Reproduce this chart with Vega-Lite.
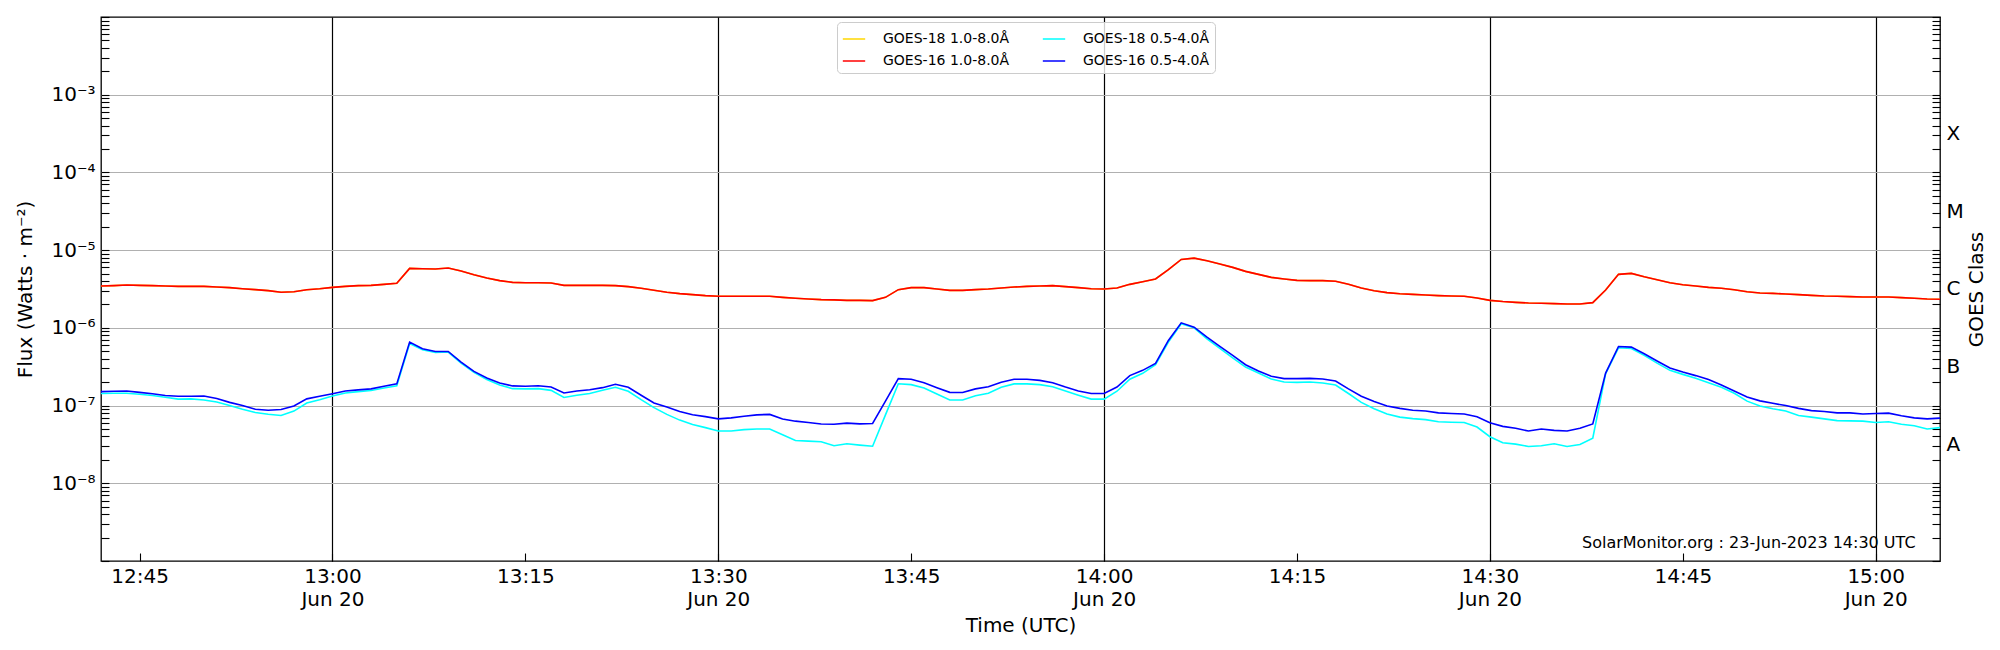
{
  "$schema": "https://vega.github.io/schema/vega-lite/v6.json",
  "width": 1839,
  "height": 544,
  "autosize": {"type": "none"},
  "padding": {"left": 101, "top": 17, "right": 60, "bottom": 89},
  "config": {
    "font": "DejaVu Sans",
    "view": {"stroke": "#000000", "strokeWidth": 1.3},
    "axis": {
      "domain": false,
      "labelFontSize": 20,
      "labelColor": "#000000",
      "titleFontSize": 20,
      "titleFontWeight": "normal",
      "titleColor": "#000000",
      "tickColor": "#000000",
      "tickWidth": 1.1,
      "labelOverlap": false,
      "labelFlush": false,
      "labelBound": false
    }
  },
  "data": {
    "values": [
      {"t":"2023-06-20T12:42:00Z","s":"GOES-18 1.0-8.0Å","f":3.45e-6},
      {"t":"2023-06-20T12:43:00Z","s":"GOES-18 1.0-8.0Å","f":3.49e-6},
      {"t":"2023-06-20T12:44:00Z","s":"GOES-18 1.0-8.0Å","f":3.56e-6},
      {"t":"2023-06-20T12:45:00Z","s":"GOES-18 1.0-8.0Å","f":3.52e-6},
      {"t":"2023-06-20T12:46:00Z","s":"GOES-18 1.0-8.0Å","f":3.49e-6},
      {"t":"2023-06-20T12:47:00Z","s":"GOES-18 1.0-8.0Å","f":3.45e-6},
      {"t":"2023-06-20T12:48:00Z","s":"GOES-18 1.0-8.0Å","f":3.42e-6},
      {"t":"2023-06-20T12:49:00Z","s":"GOES-18 1.0-8.0Å","f":3.42e-6},
      {"t":"2023-06-20T12:50:00Z","s":"GOES-18 1.0-8.0Å","f":3.42e-6},
      {"t":"2023-06-20T12:51:00Z","s":"GOES-18 1.0-8.0Å","f":3.36e-6},
      {"t":"2023-06-20T12:52:00Z","s":"GOES-18 1.0-8.0Å","f":3.29e-6},
      {"t":"2023-06-20T12:53:00Z","s":"GOES-18 1.0-8.0Å","f":3.19e-6},
      {"t":"2023-06-20T12:54:00Z","s":"GOES-18 1.0-8.0Å","f":3.10e-6},
      {"t":"2023-06-20T12:55:00Z","s":"GOES-18 1.0-8.0Å","f":3.01e-6},
      {"t":"2023-06-20T12:56:00Z","s":"GOES-18 1.0-8.0Å","f":2.87e-6},
      {"t":"2023-06-20T12:57:00Z","s":"GOES-18 1.0-8.0Å","f":2.92e-6},
      {"t":"2023-06-20T12:58:00Z","s":"GOES-18 1.0-8.0Å","f":3.10e-6},
      {"t":"2023-06-20T12:59:00Z","s":"GOES-18 1.0-8.0Å","f":3.19e-6},
      {"t":"2023-06-20T13:00:00Z","s":"GOES-18 1.0-8.0Å","f":3.32e-6},
      {"t":"2023-06-20T13:01:00Z","s":"GOES-18 1.0-8.0Å","f":3.42e-6},
      {"t":"2023-06-20T13:02:00Z","s":"GOES-18 1.0-8.0Å","f":3.49e-6},
      {"t":"2023-06-20T13:03:00Z","s":"GOES-18 1.0-8.0Å","f":3.52e-6},
      {"t":"2023-06-20T13:04:00Z","s":"GOES-18 1.0-8.0Å","f":3.63e-6},
      {"t":"2023-06-20T13:05:00Z","s":"GOES-18 1.0-8.0Å","f":3.74e-6},
      {"t":"2023-06-20T13:06:00Z","s":"GOES-18 1.0-8.0Å","f":5.82e-6},
      {"t":"2023-06-20T13:07:00Z","s":"GOES-18 1.0-8.0Å","f":5.77e-6},
      {"t":"2023-06-20T13:08:00Z","s":"GOES-18 1.0-8.0Å","f":5.71e-6},
      {"t":"2023-06-20T13:09:00Z","s":"GOES-18 1.0-8.0Å","f":5.88e-6},
      {"t":"2023-06-20T13:10:00Z","s":"GOES-18 1.0-8.0Å","f":5.38e-6},
      {"t":"2023-06-20T13:11:00Z","s":"GOES-18 1.0-8.0Å","f":4.83e-6},
      {"t":"2023-06-20T13:12:00Z","s":"GOES-18 1.0-8.0Å","f":4.38e-6},
      {"t":"2023-06-20T13:13:00Z","s":"GOES-18 1.0-8.0Å","f":4.05e-6},
      {"t":"2023-06-20T13:14:00Z","s":"GOES-18 1.0-8.0Å","f":3.85e-6},
      {"t":"2023-06-20T13:15:00Z","s":"GOES-18 1.0-8.0Å","f":3.81e-6},
      {"t":"2023-06-20T13:16:00Z","s":"GOES-18 1.0-8.0Å","f":3.81e-6},
      {"t":"2023-06-20T13:17:00Z","s":"GOES-18 1.0-8.0Å","f":3.77e-6},
      {"t":"2023-06-20T13:18:00Z","s":"GOES-18 1.0-8.0Å","f":3.52e-6},
      {"t":"2023-06-20T13:19:00Z","s":"GOES-18 1.0-8.0Å","f":3.52e-6},
      {"t":"2023-06-20T13:20:00Z","s":"GOES-18 1.0-8.0Å","f":3.52e-6},
      {"t":"2023-06-20T13:21:00Z","s":"GOES-18 1.0-8.0Å","f":3.52e-6},
      {"t":"2023-06-20T13:22:00Z","s":"GOES-18 1.0-8.0Å","f":3.49e-6},
      {"t":"2023-06-20T13:23:00Z","s":"GOES-18 1.0-8.0Å","f":3.39e-6},
      {"t":"2023-06-20T13:24:00Z","s":"GOES-18 1.0-8.0Å","f":3.23e-6},
      {"t":"2023-06-20T13:25:00Z","s":"GOES-18 1.0-8.0Å","f":3.04e-6},
      {"t":"2023-06-20T13:26:00Z","s":"GOES-18 1.0-8.0Å","f":2.87e-6},
      {"t":"2023-06-20T13:27:00Z","s":"GOES-18 1.0-8.0Å","f":2.76e-6},
      {"t":"2023-06-20T13:28:00Z","s":"GOES-18 1.0-8.0Å","f":2.68e-6},
      {"t":"2023-06-20T13:29:00Z","s":"GOES-18 1.0-8.0Å","f":2.60e-6},
      {"t":"2023-06-20T13:30:00Z","s":"GOES-18 1.0-8.0Å","f":2.55e-6},
      {"t":"2023-06-20T13:31:00Z","s":"GOES-18 1.0-8.0Å","f":2.55e-6},
      {"t":"2023-06-20T13:32:00Z","s":"GOES-18 1.0-8.0Å","f":2.55e-6},
      {"t":"2023-06-20T13:33:00Z","s":"GOES-18 1.0-8.0Å","f":2.55e-6},
      {"t":"2023-06-20T13:34:00Z","s":"GOES-18 1.0-8.0Å","f":2.55e-6},
      {"t":"2023-06-20T13:35:00Z","s":"GOES-18 1.0-8.0Å","f":2.47e-6},
      {"t":"2023-06-20T13:36:00Z","s":"GOES-18 1.0-8.0Å","f":2.40e-6},
      {"t":"2023-06-20T13:37:00Z","s":"GOES-18 1.0-8.0Å","f":2.35e-6},
      {"t":"2023-06-20T13:38:00Z","s":"GOES-18 1.0-8.0Å","f":2.31e-6},
      {"t":"2023-06-20T13:39:00Z","s":"GOES-18 1.0-8.0Å","f":2.29e-6},
      {"t":"2023-06-20T13:40:00Z","s":"GOES-18 1.0-8.0Å","f":2.26e-6},
      {"t":"2023-06-20T13:41:00Z","s":"GOES-18 1.0-8.0Å","f":2.26e-6},
      {"t":"2023-06-20T13:42:00Z","s":"GOES-18 1.0-8.0Å","f":2.24e-6},
      {"t":"2023-06-20T13:43:00Z","s":"GOES-18 1.0-8.0Å","f":2.47e-6},
      {"t":"2023-06-20T13:44:00Z","s":"GOES-18 1.0-8.0Å","f":3.10e-6},
      {"t":"2023-06-20T13:45:00Z","s":"GOES-18 1.0-8.0Å","f":3.29e-6},
      {"t":"2023-06-20T13:46:00Z","s":"GOES-18 1.0-8.0Å","f":3.29e-6},
      {"t":"2023-06-20T13:47:00Z","s":"GOES-18 1.0-8.0Å","f":3.16e-6},
      {"t":"2023-06-20T13:48:00Z","s":"GOES-18 1.0-8.0Å","f":3.04e-6},
      {"t":"2023-06-20T13:49:00Z","s":"GOES-18 1.0-8.0Å","f":3.04e-6},
      {"t":"2023-06-20T13:50:00Z","s":"GOES-18 1.0-8.0Å","f":3.10e-6},
      {"t":"2023-06-20T13:51:00Z","s":"GOES-18 1.0-8.0Å","f":3.16e-6},
      {"t":"2023-06-20T13:52:00Z","s":"GOES-18 1.0-8.0Å","f":3.26e-6},
      {"t":"2023-06-20T13:53:00Z","s":"GOES-18 1.0-8.0Å","f":3.35e-6},
      {"t":"2023-06-20T13:54:00Z","s":"GOES-18 1.0-8.0Å","f":3.42e-6},
      {"t":"2023-06-20T13:55:00Z","s":"GOES-18 1.0-8.0Å","f":3.45e-6},
      {"t":"2023-06-20T13:56:00Z","s":"GOES-18 1.0-8.0Å","f":3.49e-6},
      {"t":"2023-06-20T13:57:00Z","s":"GOES-18 1.0-8.0Å","f":3.39e-6},
      {"t":"2023-06-20T13:58:00Z","s":"GOES-18 1.0-8.0Å","f":3.29e-6},
      {"t":"2023-06-20T13:59:00Z","s":"GOES-18 1.0-8.0Å","f":3.19e-6},
      {"t":"2023-06-20T14:00:00Z","s":"GOES-18 1.0-8.0Å","f":3.16e-6},
      {"t":"2023-06-20T14:01:00Z","s":"GOES-18 1.0-8.0Å","f":3.26e-6},
      {"t":"2023-06-20T14:02:00Z","s":"GOES-18 1.0-8.0Å","f":3.63e-6},
      {"t":"2023-06-20T14:03:00Z","s":"GOES-18 1.0-8.0Å","f":3.93e-6},
      {"t":"2023-06-20T14:04:00Z","s":"GOES-18 1.0-8.0Å","f":4.25e-6},
      {"t":"2023-06-20T14:05:00Z","s":"GOES-18 1.0-8.0Å","f":5.60e-6},
      {"t":"2023-06-20T14:06:00Z","s":"GOES-18 1.0-8.0Å","f":7.59e-6},
      {"t":"2023-06-20T14:07:00Z","s":"GOES-18 1.0-8.0Å","f":7.89e-6},
      {"t":"2023-06-20T14:08:00Z","s":"GOES-18 1.0-8.0Å","f":7.30e-6},
      {"t":"2023-06-20T14:09:00Z","s":"GOES-18 1.0-8.0Å","f":6.62e-6},
      {"t":"2023-06-20T14:10:00Z","s":"GOES-18 1.0-8.0Å","f":6.00e-6},
      {"t":"2023-06-20T14:11:00Z","s":"GOES-18 1.0-8.0Å","f":5.33e-6},
      {"t":"2023-06-20T14:12:00Z","s":"GOES-18 1.0-8.0Å","f":4.88e-6},
      {"t":"2023-06-20T14:13:00Z","s":"GOES-18 1.0-8.0Å","f":4.46e-6},
      {"t":"2023-06-20T14:14:00Z","s":"GOES-18 1.0-8.0Å","f":4.25e-6},
      {"t":"2023-06-20T14:15:00Z","s":"GOES-18 1.0-8.0Å","f":4.08e-6},
      {"t":"2023-06-20T14:16:00Z","s":"GOES-18 1.0-8.0Å","f":4.05e-6},
      {"t":"2023-06-20T14:17:00Z","s":"GOES-18 1.0-8.0Å","f":4.05e-6},
      {"t":"2023-06-20T14:18:00Z","s":"GOES-18 1.0-8.0Å","f":3.97e-6},
      {"t":"2023-06-20T14:19:00Z","s":"GOES-18 1.0-8.0Å","f":3.63e-6},
      {"t":"2023-06-20T14:20:00Z","s":"GOES-18 1.0-8.0Å","f":3.26e-6},
      {"t":"2023-06-20T14:21:00Z","s":"GOES-18 1.0-8.0Å","f":3.01e-6},
      {"t":"2023-06-20T14:22:00Z","s":"GOES-18 1.0-8.0Å","f":2.84e-6},
      {"t":"2023-06-20T14:23:00Z","s":"GOES-18 1.0-8.0Å","f":2.75e-6},
      {"t":"2023-06-20T14:24:00Z","s":"GOES-18 1.0-8.0Å","f":2.70e-6},
      {"t":"2023-06-20T14:25:00Z","s":"GOES-18 1.0-8.0Å","f":2.65e-6},
      {"t":"2023-06-20T14:26:00Z","s":"GOES-18 1.0-8.0Å","f":2.60e-6},
      {"t":"2023-06-20T14:27:00Z","s":"GOES-18 1.0-8.0Å","f":2.57e-6},
      {"t":"2023-06-20T14:28:00Z","s":"GOES-18 1.0-8.0Å","f":2.55e-6},
      {"t":"2023-06-20T14:29:00Z","s":"GOES-18 1.0-8.0Å","f":2.42e-6},
      {"t":"2023-06-20T14:30:00Z","s":"GOES-18 1.0-8.0Å","f":2.26e-6},
      {"t":"2023-06-20T14:31:00Z","s":"GOES-18 1.0-8.0Å","f":2.18e-6},
      {"t":"2023-06-20T14:32:00Z","s":"GOES-18 1.0-8.0Å","f":2.13e-6},
      {"t":"2023-06-20T14:33:00Z","s":"GOES-18 1.0-8.0Å","f":2.09e-6},
      {"t":"2023-06-20T14:34:00Z","s":"GOES-18 1.0-8.0Å","f":2.07e-6},
      {"t":"2023-06-20T14:35:00Z","s":"GOES-18 1.0-8.0Å","f":2.05e-6},
      {"t":"2023-06-20T14:36:00Z","s":"GOES-18 1.0-8.0Å","f":2.03e-6},
      {"t":"2023-06-20T14:37:00Z","s":"GOES-18 1.0-8.0Å","f":2.03e-6},
      {"t":"2023-06-20T14:38:00Z","s":"GOES-18 1.0-8.0Å","f":2.11e-6},
      {"t":"2023-06-20T14:39:00Z","s":"GOES-18 1.0-8.0Å","f":3.07e-6},
      {"t":"2023-06-20T14:40:00Z","s":"GOES-18 1.0-8.0Å","f":4.88e-6},
      {"t":"2023-06-20T14:41:00Z","s":"GOES-18 1.0-8.0Å","f":5.02e-6},
      {"t":"2023-06-20T14:42:00Z","s":"GOES-18 1.0-8.0Å","f":4.55e-6},
      {"t":"2023-06-20T14:43:00Z","s":"GOES-18 1.0-8.0Å","f":4.17e-6},
      {"t":"2023-06-20T14:44:00Z","s":"GOES-18 1.0-8.0Å","f":3.81e-6},
      {"t":"2023-06-20T14:45:00Z","s":"GOES-18 1.0-8.0Å","f":3.59e-6},
      {"t":"2023-06-20T14:46:00Z","s":"GOES-18 1.0-8.0Å","f":3.45e-6},
      {"t":"2023-06-20T14:47:00Z","s":"GOES-18 1.0-8.0Å","f":3.32e-6},
      {"t":"2023-06-20T14:48:00Z","s":"GOES-18 1.0-8.0Å","f":3.23e-6},
      {"t":"2023-06-20T14:49:00Z","s":"GOES-18 1.0-8.0Å","f":3.10e-6},
      {"t":"2023-06-20T14:50:00Z","s":"GOES-18 1.0-8.0Å","f":2.92e-6},
      {"t":"2023-06-20T14:51:00Z","s":"GOES-18 1.0-8.0Å","f":2.81e-6},
      {"t":"2023-06-20T14:52:00Z","s":"GOES-18 1.0-8.0Å","f":2.78e-6},
      {"t":"2023-06-20T14:53:00Z","s":"GOES-18 1.0-8.0Å","f":2.73e-6},
      {"t":"2023-06-20T14:54:00Z","s":"GOES-18 1.0-8.0Å","f":2.68e-6},
      {"t":"2023-06-20T14:55:00Z","s":"GOES-18 1.0-8.0Å","f":2.62e-6},
      {"t":"2023-06-20T14:56:00Z","s":"GOES-18 1.0-8.0Å","f":2.57e-6},
      {"t":"2023-06-20T14:57:00Z","s":"GOES-18 1.0-8.0Å","f":2.55e-6},
      {"t":"2023-06-20T14:58:00Z","s":"GOES-18 1.0-8.0Å","f":2.52e-6},
      {"t":"2023-06-20T14:59:00Z","s":"GOES-18 1.0-8.0Å","f":2.50e-6},
      {"t":"2023-06-20T15:00:00Z","s":"GOES-18 1.0-8.0Å","f":2.50e-6},
      {"t":"2023-06-20T15:01:00Z","s":"GOES-18 1.0-8.0Å","f":2.50e-6},
      {"t":"2023-06-20T15:02:00Z","s":"GOES-18 1.0-8.0Å","f":2.45e-6},
      {"t":"2023-06-20T15:03:00Z","s":"GOES-18 1.0-8.0Å","f":2.40e-6},
      {"t":"2023-06-20T15:04:00Z","s":"GOES-18 1.0-8.0Å","f":2.35e-6},
      {"t":"2023-06-20T15:05:00Z","s":"GOES-18 1.0-8.0Å","f":2.33e-6},

      {"t":"2023-06-20T12:42:00Z","s":"GOES-16 1.0-8.0Å","f":3.45e-6},
      {"t":"2023-06-20T12:43:00Z","s":"GOES-16 1.0-8.0Å","f":3.49e-6},
      {"t":"2023-06-20T12:44:00Z","s":"GOES-16 1.0-8.0Å","f":3.56e-6},
      {"t":"2023-06-20T12:45:00Z","s":"GOES-16 1.0-8.0Å","f":3.52e-6},
      {"t":"2023-06-20T12:46:00Z","s":"GOES-16 1.0-8.0Å","f":3.49e-6},
      {"t":"2023-06-20T12:47:00Z","s":"GOES-16 1.0-8.0Å","f":3.45e-6},
      {"t":"2023-06-20T12:48:00Z","s":"GOES-16 1.0-8.0Å","f":3.42e-6},
      {"t":"2023-06-20T12:49:00Z","s":"GOES-16 1.0-8.0Å","f":3.42e-6},
      {"t":"2023-06-20T12:50:00Z","s":"GOES-16 1.0-8.0Å","f":3.42e-6},
      {"t":"2023-06-20T12:51:00Z","s":"GOES-16 1.0-8.0Å","f":3.36e-6},
      {"t":"2023-06-20T12:52:00Z","s":"GOES-16 1.0-8.0Å","f":3.29e-6},
      {"t":"2023-06-20T12:53:00Z","s":"GOES-16 1.0-8.0Å","f":3.19e-6},
      {"t":"2023-06-20T12:54:00Z","s":"GOES-16 1.0-8.0Å","f":3.10e-6},
      {"t":"2023-06-20T12:55:00Z","s":"GOES-16 1.0-8.0Å","f":3.01e-6},
      {"t":"2023-06-20T12:56:00Z","s":"GOES-16 1.0-8.0Å","f":2.87e-6},
      {"t":"2023-06-20T12:57:00Z","s":"GOES-16 1.0-8.0Å","f":2.92e-6},
      {"t":"2023-06-20T12:58:00Z","s":"GOES-16 1.0-8.0Å","f":3.10e-6},
      {"t":"2023-06-20T12:59:00Z","s":"GOES-16 1.0-8.0Å","f":3.19e-6},
      {"t":"2023-06-20T13:00:00Z","s":"GOES-16 1.0-8.0Å","f":3.32e-6},
      {"t":"2023-06-20T13:01:00Z","s":"GOES-16 1.0-8.0Å","f":3.42e-6},
      {"t":"2023-06-20T13:02:00Z","s":"GOES-16 1.0-8.0Å","f":3.49e-6},
      {"t":"2023-06-20T13:03:00Z","s":"GOES-16 1.0-8.0Å","f":3.52e-6},
      {"t":"2023-06-20T13:04:00Z","s":"GOES-16 1.0-8.0Å","f":3.63e-6},
      {"t":"2023-06-20T13:05:00Z","s":"GOES-16 1.0-8.0Å","f":3.74e-6},
      {"t":"2023-06-20T13:06:00Z","s":"GOES-16 1.0-8.0Å","f":5.82e-6},
      {"t":"2023-06-20T13:07:00Z","s":"GOES-16 1.0-8.0Å","f":5.77e-6},
      {"t":"2023-06-20T13:08:00Z","s":"GOES-16 1.0-8.0Å","f":5.71e-6},
      {"t":"2023-06-20T13:09:00Z","s":"GOES-16 1.0-8.0Å","f":5.88e-6},
      {"t":"2023-06-20T13:10:00Z","s":"GOES-16 1.0-8.0Å","f":5.38e-6},
      {"t":"2023-06-20T13:11:00Z","s":"GOES-16 1.0-8.0Å","f":4.83e-6},
      {"t":"2023-06-20T13:12:00Z","s":"GOES-16 1.0-8.0Å","f":4.38e-6},
      {"t":"2023-06-20T13:13:00Z","s":"GOES-16 1.0-8.0Å","f":4.05e-6},
      {"t":"2023-06-20T13:14:00Z","s":"GOES-16 1.0-8.0Å","f":3.85e-6},
      {"t":"2023-06-20T13:15:00Z","s":"GOES-16 1.0-8.0Å","f":3.81e-6},
      {"t":"2023-06-20T13:16:00Z","s":"GOES-16 1.0-8.0Å","f":3.81e-6},
      {"t":"2023-06-20T13:17:00Z","s":"GOES-16 1.0-8.0Å","f":3.77e-6},
      {"t":"2023-06-20T13:18:00Z","s":"GOES-16 1.0-8.0Å","f":3.52e-6},
      {"t":"2023-06-20T13:19:00Z","s":"GOES-16 1.0-8.0Å","f":3.52e-6},
      {"t":"2023-06-20T13:20:00Z","s":"GOES-16 1.0-8.0Å","f":3.52e-6},
      {"t":"2023-06-20T13:21:00Z","s":"GOES-16 1.0-8.0Å","f":3.52e-6},
      {"t":"2023-06-20T13:22:00Z","s":"GOES-16 1.0-8.0Å","f":3.49e-6},
      {"t":"2023-06-20T13:23:00Z","s":"GOES-16 1.0-8.0Å","f":3.39e-6},
      {"t":"2023-06-20T13:24:00Z","s":"GOES-16 1.0-8.0Å","f":3.23e-6},
      {"t":"2023-06-20T13:25:00Z","s":"GOES-16 1.0-8.0Å","f":3.04e-6},
      {"t":"2023-06-20T13:26:00Z","s":"GOES-16 1.0-8.0Å","f":2.87e-6},
      {"t":"2023-06-20T13:27:00Z","s":"GOES-16 1.0-8.0Å","f":2.76e-6},
      {"t":"2023-06-20T13:28:00Z","s":"GOES-16 1.0-8.0Å","f":2.68e-6},
      {"t":"2023-06-20T13:29:00Z","s":"GOES-16 1.0-8.0Å","f":2.60e-6},
      {"t":"2023-06-20T13:30:00Z","s":"GOES-16 1.0-8.0Å","f":2.55e-6},
      {"t":"2023-06-20T13:31:00Z","s":"GOES-16 1.0-8.0Å","f":2.55e-6},
      {"t":"2023-06-20T13:32:00Z","s":"GOES-16 1.0-8.0Å","f":2.55e-6},
      {"t":"2023-06-20T13:33:00Z","s":"GOES-16 1.0-8.0Å","f":2.55e-6},
      {"t":"2023-06-20T13:34:00Z","s":"GOES-16 1.0-8.0Å","f":2.55e-6},
      {"t":"2023-06-20T13:35:00Z","s":"GOES-16 1.0-8.0Å","f":2.47e-6},
      {"t":"2023-06-20T13:36:00Z","s":"GOES-16 1.0-8.0Å","f":2.40e-6},
      {"t":"2023-06-20T13:37:00Z","s":"GOES-16 1.0-8.0Å","f":2.35e-6},
      {"t":"2023-06-20T13:38:00Z","s":"GOES-16 1.0-8.0Å","f":2.31e-6},
      {"t":"2023-06-20T13:39:00Z","s":"GOES-16 1.0-8.0Å","f":2.29e-6},
      {"t":"2023-06-20T13:40:00Z","s":"GOES-16 1.0-8.0Å","f":2.26e-6},
      {"t":"2023-06-20T13:41:00Z","s":"GOES-16 1.0-8.0Å","f":2.26e-6},
      {"t":"2023-06-20T13:42:00Z","s":"GOES-16 1.0-8.0Å","f":2.24e-6},
      {"t":"2023-06-20T13:43:00Z","s":"GOES-16 1.0-8.0Å","f":2.47e-6},
      {"t":"2023-06-20T13:44:00Z","s":"GOES-16 1.0-8.0Å","f":3.10e-6},
      {"t":"2023-06-20T13:45:00Z","s":"GOES-16 1.0-8.0Å","f":3.29e-6},
      {"t":"2023-06-20T13:46:00Z","s":"GOES-16 1.0-8.0Å","f":3.29e-6},
      {"t":"2023-06-20T13:47:00Z","s":"GOES-16 1.0-8.0Å","f":3.16e-6},
      {"t":"2023-06-20T13:48:00Z","s":"GOES-16 1.0-8.0Å","f":3.04e-6},
      {"t":"2023-06-20T13:49:00Z","s":"GOES-16 1.0-8.0Å","f":3.04e-6},
      {"t":"2023-06-20T13:50:00Z","s":"GOES-16 1.0-8.0Å","f":3.10e-6},
      {"t":"2023-06-20T13:51:00Z","s":"GOES-16 1.0-8.0Å","f":3.16e-6},
      {"t":"2023-06-20T13:52:00Z","s":"GOES-16 1.0-8.0Å","f":3.26e-6},
      {"t":"2023-06-20T13:53:00Z","s":"GOES-16 1.0-8.0Å","f":3.35e-6},
      {"t":"2023-06-20T13:54:00Z","s":"GOES-16 1.0-8.0Å","f":3.42e-6},
      {"t":"2023-06-20T13:55:00Z","s":"GOES-16 1.0-8.0Å","f":3.45e-6},
      {"t":"2023-06-20T13:56:00Z","s":"GOES-16 1.0-8.0Å","f":3.49e-6},
      {"t":"2023-06-20T13:57:00Z","s":"GOES-16 1.0-8.0Å","f":3.39e-6},
      {"t":"2023-06-20T13:58:00Z","s":"GOES-16 1.0-8.0Å","f":3.29e-6},
      {"t":"2023-06-20T13:59:00Z","s":"GOES-16 1.0-8.0Å","f":3.19e-6},
      {"t":"2023-06-20T14:00:00Z","s":"GOES-16 1.0-8.0Å","f":3.16e-6},
      {"t":"2023-06-20T14:01:00Z","s":"GOES-16 1.0-8.0Å","f":3.26e-6},
      {"t":"2023-06-20T14:02:00Z","s":"GOES-16 1.0-8.0Å","f":3.63e-6},
      {"t":"2023-06-20T14:03:00Z","s":"GOES-16 1.0-8.0Å","f":3.93e-6},
      {"t":"2023-06-20T14:04:00Z","s":"GOES-16 1.0-8.0Å","f":4.25e-6},
      {"t":"2023-06-20T14:05:00Z","s":"GOES-16 1.0-8.0Å","f":5.60e-6},
      {"t":"2023-06-20T14:06:00Z","s":"GOES-16 1.0-8.0Å","f":7.59e-6},
      {"t":"2023-06-20T14:07:00Z","s":"GOES-16 1.0-8.0Å","f":7.89e-6},
      {"t":"2023-06-20T14:08:00Z","s":"GOES-16 1.0-8.0Å","f":7.30e-6},
      {"t":"2023-06-20T14:09:00Z","s":"GOES-16 1.0-8.0Å","f":6.62e-6},
      {"t":"2023-06-20T14:10:00Z","s":"GOES-16 1.0-8.0Å","f":6.00e-6},
      {"t":"2023-06-20T14:11:00Z","s":"GOES-16 1.0-8.0Å","f":5.33e-6},
      {"t":"2023-06-20T14:12:00Z","s":"GOES-16 1.0-8.0Å","f":4.88e-6},
      {"t":"2023-06-20T14:13:00Z","s":"GOES-16 1.0-8.0Å","f":4.46e-6},
      {"t":"2023-06-20T14:14:00Z","s":"GOES-16 1.0-8.0Å","f":4.25e-6},
      {"t":"2023-06-20T14:15:00Z","s":"GOES-16 1.0-8.0Å","f":4.08e-6},
      {"t":"2023-06-20T14:16:00Z","s":"GOES-16 1.0-8.0Å","f":4.05e-6},
      {"t":"2023-06-20T14:17:00Z","s":"GOES-16 1.0-8.0Å","f":4.05e-6},
      {"t":"2023-06-20T14:18:00Z","s":"GOES-16 1.0-8.0Å","f":3.97e-6},
      {"t":"2023-06-20T14:19:00Z","s":"GOES-16 1.0-8.0Å","f":3.63e-6},
      {"t":"2023-06-20T14:20:00Z","s":"GOES-16 1.0-8.0Å","f":3.26e-6},
      {"t":"2023-06-20T14:21:00Z","s":"GOES-16 1.0-8.0Å","f":3.01e-6},
      {"t":"2023-06-20T14:22:00Z","s":"GOES-16 1.0-8.0Å","f":2.84e-6},
      {"t":"2023-06-20T14:23:00Z","s":"GOES-16 1.0-8.0Å","f":2.75e-6},
      {"t":"2023-06-20T14:24:00Z","s":"GOES-16 1.0-8.0Å","f":2.70e-6},
      {"t":"2023-06-20T14:25:00Z","s":"GOES-16 1.0-8.0Å","f":2.65e-6},
      {"t":"2023-06-20T14:26:00Z","s":"GOES-16 1.0-8.0Å","f":2.60e-6},
      {"t":"2023-06-20T14:27:00Z","s":"GOES-16 1.0-8.0Å","f":2.57e-6},
      {"t":"2023-06-20T14:28:00Z","s":"GOES-16 1.0-8.0Å","f":2.55e-6},
      {"t":"2023-06-20T14:29:00Z","s":"GOES-16 1.0-8.0Å","f":2.42e-6},
      {"t":"2023-06-20T14:30:00Z","s":"GOES-16 1.0-8.0Å","f":2.26e-6},
      {"t":"2023-06-20T14:31:00Z","s":"GOES-16 1.0-8.0Å","f":2.18e-6},
      {"t":"2023-06-20T14:32:00Z","s":"GOES-16 1.0-8.0Å","f":2.13e-6},
      {"t":"2023-06-20T14:33:00Z","s":"GOES-16 1.0-8.0Å","f":2.09e-6},
      {"t":"2023-06-20T14:34:00Z","s":"GOES-16 1.0-8.0Å","f":2.07e-6},
      {"t":"2023-06-20T14:35:00Z","s":"GOES-16 1.0-8.0Å","f":2.05e-6},
      {"t":"2023-06-20T14:36:00Z","s":"GOES-16 1.0-8.0Å","f":2.03e-6},
      {"t":"2023-06-20T14:37:00Z","s":"GOES-16 1.0-8.0Å","f":2.03e-6},
      {"t":"2023-06-20T14:38:00Z","s":"GOES-16 1.0-8.0Å","f":2.11e-6},
      {"t":"2023-06-20T14:39:00Z","s":"GOES-16 1.0-8.0Å","f":3.07e-6},
      {"t":"2023-06-20T14:40:00Z","s":"GOES-16 1.0-8.0Å","f":4.88e-6},
      {"t":"2023-06-20T14:41:00Z","s":"GOES-16 1.0-8.0Å","f":5.02e-6},
      {"t":"2023-06-20T14:42:00Z","s":"GOES-16 1.0-8.0Å","f":4.55e-6},
      {"t":"2023-06-20T14:43:00Z","s":"GOES-16 1.0-8.0Å","f":4.17e-6},
      {"t":"2023-06-20T14:44:00Z","s":"GOES-16 1.0-8.0Å","f":3.81e-6},
      {"t":"2023-06-20T14:45:00Z","s":"GOES-16 1.0-8.0Å","f":3.59e-6},
      {"t":"2023-06-20T14:46:00Z","s":"GOES-16 1.0-8.0Å","f":3.45e-6},
      {"t":"2023-06-20T14:47:00Z","s":"GOES-16 1.0-8.0Å","f":3.32e-6},
      {"t":"2023-06-20T14:48:00Z","s":"GOES-16 1.0-8.0Å","f":3.23e-6},
      {"t":"2023-06-20T14:49:00Z","s":"GOES-16 1.0-8.0Å","f":3.10e-6},
      {"t":"2023-06-20T14:50:00Z","s":"GOES-16 1.0-8.0Å","f":2.92e-6},
      {"t":"2023-06-20T14:51:00Z","s":"GOES-16 1.0-8.0Å","f":2.81e-6},
      {"t":"2023-06-20T14:52:00Z","s":"GOES-16 1.0-8.0Å","f":2.78e-6},
      {"t":"2023-06-20T14:53:00Z","s":"GOES-16 1.0-8.0Å","f":2.73e-6},
      {"t":"2023-06-20T14:54:00Z","s":"GOES-16 1.0-8.0Å","f":2.68e-6},
      {"t":"2023-06-20T14:55:00Z","s":"GOES-16 1.0-8.0Å","f":2.62e-6},
      {"t":"2023-06-20T14:56:00Z","s":"GOES-16 1.0-8.0Å","f":2.57e-6},
      {"t":"2023-06-20T14:57:00Z","s":"GOES-16 1.0-8.0Å","f":2.55e-6},
      {"t":"2023-06-20T14:58:00Z","s":"GOES-16 1.0-8.0Å","f":2.52e-6},
      {"t":"2023-06-20T14:59:00Z","s":"GOES-16 1.0-8.0Å","f":2.50e-6},
      {"t":"2023-06-20T15:00:00Z","s":"GOES-16 1.0-8.0Å","f":2.50e-6},
      {"t":"2023-06-20T15:01:00Z","s":"GOES-16 1.0-8.0Å","f":2.50e-6},
      {"t":"2023-06-20T15:02:00Z","s":"GOES-16 1.0-8.0Å","f":2.45e-6},
      {"t":"2023-06-20T15:03:00Z","s":"GOES-16 1.0-8.0Å","f":2.40e-6},
      {"t":"2023-06-20T15:04:00Z","s":"GOES-16 1.0-8.0Å","f":2.35e-6},
      {"t":"2023-06-20T15:05:00Z","s":"GOES-16 1.0-8.0Å","f":2.33e-6},

      {"t":"2023-06-20T12:42:00Z","s":"GOES-18 0.5-4.0Å","f":1.43e-7},
      {"t":"2023-06-20T12:43:00Z","s":"GOES-18 0.5-4.0Å","f":1.44e-7},
      {"t":"2023-06-20T12:44:00Z","s":"GOES-18 0.5-4.0Å","f":1.44e-7},
      {"t":"2023-06-20T12:45:00Z","s":"GOES-18 0.5-4.0Å","f":1.40e-7},
      {"t":"2023-06-20T12:46:00Z","s":"GOES-18 0.5-4.0Å","f":1.35e-7},
      {"t":"2023-06-20T12:47:00Z","s":"GOES-18 0.5-4.0Å","f":1.28e-7},
      {"t":"2023-06-20T12:48:00Z","s":"GOES-18 0.5-4.0Å","f":1.21e-7},
      {"t":"2023-06-20T12:49:00Z","s":"GOES-18 0.5-4.0Å","f":1.22e-7},
      {"t":"2023-06-20T12:50:00Z","s":"GOES-18 0.5-4.0Å","f":1.18e-7},
      {"t":"2023-06-20T12:51:00Z","s":"GOES-18 0.5-4.0Å","f":1.11e-7},
      {"t":"2023-06-20T12:52:00Z","s":"GOES-18 0.5-4.0Å","f":1.00e-7},
      {"t":"2023-06-20T12:53:00Z","s":"GOES-18 0.5-4.0Å","f":8.97e-8},
      {"t":"2023-06-20T12:54:00Z","s":"GOES-18 0.5-4.0Å","f":8.13e-8},
      {"t":"2023-06-20T12:55:00Z","s":"GOES-18 0.5-4.0Å","f":7.74e-8},
      {"t":"2023-06-20T12:56:00Z","s":"GOES-18 0.5-4.0Å","f":7.45e-8},
      {"t":"2023-06-20T12:57:00Z","s":"GOES-18 0.5-4.0Å","f":8.5e-8},
      {"t":"2023-06-20T12:58:00Z","s":"GOES-18 0.5-4.0Å","f":1.08e-7},
      {"t":"2023-06-20T12:59:00Z","s":"GOES-18 0.5-4.0Å","f":1.19e-7},
      {"t":"2023-06-20T13:00:00Z","s":"GOES-18 0.5-4.0Å","f":1.33e-7},
      {"t":"2023-06-20T13:01:00Z","s":"GOES-18 0.5-4.0Å","f":1.45e-7},
      {"t":"2023-06-20T13:02:00Z","s":"GOES-18 0.5-4.0Å","f":1.51e-7},
      {"t":"2023-06-20T13:03:00Z","s":"GOES-18 0.5-4.0Å","f":1.56e-7},
      {"t":"2023-06-20T13:04:00Z","s":"GOES-18 0.5-4.0Å","f":1.68e-7},
      {"t":"2023-06-20T13:05:00Z","s":"GOES-18 0.5-4.0Å","f":1.80e-7},
      {"t":"2023-06-20T13:06:00Z","s":"GOES-18 0.5-4.0Å","f":6.30e-7},
      {"t":"2023-06-20T13:07:00Z","s":"GOES-18 0.5-4.0Å","f":5.22e-7},
      {"t":"2023-06-20T13:08:00Z","s":"GOES-18 0.5-4.0Å","f":4.83e-7},
      {"t":"2023-06-20T13:09:00Z","s":"GOES-18 0.5-4.0Å","f":4.88e-7},
      {"t":"2023-06-20T13:10:00Z","s":"GOES-18 0.5-4.0Å","f":3.52e-7},
      {"t":"2023-06-20T13:11:00Z","s":"GOES-18 0.5-4.0Å","f":2.67e-7},
      {"t":"2023-06-20T13:12:00Z","s":"GOES-18 0.5-4.0Å","f":2.16e-7},
      {"t":"2023-06-20T13:13:00Z","s":"GOES-18 0.5-4.0Å","f":1.84e-7},
      {"t":"2023-06-20T13:14:00Z","s":"GOES-18 0.5-4.0Å","f":1.65e-7},
      {"t":"2023-06-20T13:15:00Z","s":"GOES-18 0.5-4.0Å","f":1.64e-7},
      {"t":"2023-06-20T13:16:00Z","s":"GOES-18 0.5-4.0Å","f":1.65e-7},
      {"t":"2023-06-20T13:17:00Z","s":"GOES-18 0.5-4.0Å","f":1.57e-7},
      {"t":"2023-06-20T13:18:00Z","s":"GOES-18 0.5-4.0Å","f":1.27e-7},
      {"t":"2023-06-20T13:19:00Z","s":"GOES-18 0.5-4.0Å","f":1.36e-7},
      {"t":"2023-06-20T13:20:00Z","s":"GOES-18 0.5-4.0Å","f":1.43e-7},
      {"t":"2023-06-20T13:21:00Z","s":"GOES-18 0.5-4.0Å","f":1.57e-7},
      {"t":"2023-06-20T13:22:00Z","s":"GOES-18 0.5-4.0Å","f":1.72e-7},
      {"t":"2023-06-20T13:23:00Z","s":"GOES-18 0.5-4.0Å","f":1.53e-7},
      {"t":"2023-06-20T13:24:00Z","s":"GOES-18 0.5-4.0Å","f":1.19e-7},
      {"t":"2023-06-20T13:25:00Z","s":"GOES-18 0.5-4.0Å","f":9.4e-8},
      {"t":"2023-06-20T13:26:00Z","s":"GOES-18 0.5-4.0Å","f":7.7e-8},
      {"t":"2023-06-20T13:27:00Z","s":"GOES-18 0.5-4.0Å","f":6.5e-8},
      {"t":"2023-06-20T13:28:00Z","s":"GOES-18 0.5-4.0Å","f":5.7e-8},
      {"t":"2023-06-20T13:29:00Z","s":"GOES-18 0.5-4.0Å","f":5.2e-8},
      {"t":"2023-06-20T13:30:00Z","s":"GOES-18 0.5-4.0Å","f":4.7e-8},
      {"t":"2023-06-20T13:31:00Z","s":"GOES-18 0.5-4.0Å","f":4.7e-8},
      {"t":"2023-06-20T13:32:00Z","s":"GOES-18 0.5-4.0Å","f":4.9e-8},
      {"t":"2023-06-20T13:33:00Z","s":"GOES-18 0.5-4.0Å","f":5.0e-8},
      {"t":"2023-06-20T13:34:00Z","s":"GOES-18 0.5-4.0Å","f":5.0e-8},
      {"t":"2023-06-20T13:35:00Z","s":"GOES-18 0.5-4.0Å","f":4.2e-8},
      {"t":"2023-06-20T13:36:00Z","s":"GOES-18 0.5-4.0Å","f":3.56e-8},
      {"t":"2023-06-20T13:37:00Z","s":"GOES-18 0.5-4.0Å","f":3.49e-8},
      {"t":"2023-06-20T13:38:00Z","s":"GOES-18 0.5-4.0Å","f":3.42e-8},
      {"t":"2023-06-20T13:39:00Z","s":"GOES-18 0.5-4.0Å","f":3.04e-8},
      {"t":"2023-06-20T13:40:00Z","s":"GOES-18 0.5-4.0Å","f":3.23e-8},
      {"t":"2023-06-20T13:41:00Z","s":"GOES-18 0.5-4.0Å","f":3.10e-8},
      {"t":"2023-06-20T13:42:00Z","s":"GOES-18 0.5-4.0Å","f":3.0e-8},
      {"t":"2023-06-20T13:43:00Z","s":"GOES-18 0.5-4.0Å","f":7.6e-8},
      {"t":"2023-06-20T13:44:00Z","s":"GOES-18 0.5-4.0Å","f":1.91e-7},
      {"t":"2023-06-20T13:45:00Z","s":"GOES-18 0.5-4.0Å","f":1.86e-7},
      {"t":"2023-06-20T13:46:00Z","s":"GOES-18 0.5-4.0Å","f":1.68e-7},
      {"t":"2023-06-20T13:47:00Z","s":"GOES-18 0.5-4.0Å","f":1.41e-7},
      {"t":"2023-06-20T13:48:00Z","s":"GOES-18 0.5-4.0Å","f":1.18e-7},
      {"t":"2023-06-20T13:49:00Z","s":"GOES-18 0.5-4.0Å","f":1.18e-7},
      {"t":"2023-06-20T13:50:00Z","s":"GOES-18 0.5-4.0Å","f":1.34e-7},
      {"t":"2023-06-20T13:51:00Z","s":"GOES-18 0.5-4.0Å","f":1.44e-7},
      {"t":"2023-06-20T13:52:00Z","s":"GOES-18 0.5-4.0Å","f":1.72e-7},
      {"t":"2023-06-20T13:53:00Z","s":"GOES-18 0.5-4.0Å","f":1.90e-7},
      {"t":"2023-06-20T13:54:00Z","s":"GOES-18 0.5-4.0Å","f":1.90e-7},
      {"t":"2023-06-20T13:55:00Z","s":"GOES-18 0.5-4.0Å","f":1.86e-7},
      {"t":"2023-06-20T13:56:00Z","s":"GOES-18 0.5-4.0Å","f":1.75e-7},
      {"t":"2023-06-20T13:57:00Z","s":"GOES-18 0.5-4.0Å","f":1.54e-7},
      {"t":"2023-06-20T13:58:00Z","s":"GOES-18 0.5-4.0Å","f":1.36e-7},
      {"t":"2023-06-20T13:59:00Z","s":"GOES-18 0.5-4.0Å","f":1.21e-7},
      {"t":"2023-06-20T14:00:00Z","s":"GOES-18 0.5-4.0Å","f":1.21e-7},
      {"t":"2023-06-20T14:01:00Z","s":"GOES-18 0.5-4.0Å","f":1.53e-7},
      {"t":"2023-06-20T14:02:00Z","s":"GOES-18 0.5-4.0Å","f":2.18e-7},
      {"t":"2023-06-20T14:03:00Z","s":"GOES-18 0.5-4.0Å","f":2.60e-7},
      {"t":"2023-06-20T14:04:00Z","s":"GOES-18 0.5-4.0Å","f":3.35e-7},
      {"t":"2023-06-20T14:05:00Z","s":"GOES-18 0.5-4.0Å","f":6.55e-7},
      {"t":"2023-06-20T14:06:00Z","s":"GOES-18 0.5-4.0Å","f":1.13e-6},
      {"t":"2023-06-20T14:07:00Z","s":"GOES-18 0.5-4.0Å","f":1.0e-6},
      {"t":"2023-06-20T14:08:00Z","s":"GOES-18 0.5-4.0Å","f":7.23e-7},
      {"t":"2023-06-20T14:09:00Z","s":"GOES-18 0.5-4.0Å","f":5.43e-7},
      {"t":"2023-06-20T14:10:00Z","s":"GOES-18 0.5-4.0Å","f":4.12e-7},
      {"t":"2023-06-20T14:11:00Z","s":"GOES-18 0.5-4.0Å","f":3.13e-7},
      {"t":"2023-06-20T14:12:00Z","s":"GOES-18 0.5-4.0Å","f":2.62e-7},
      {"t":"2023-06-20T14:13:00Z","s":"GOES-18 0.5-4.0Å","f":2.20e-7},
      {"t":"2023-06-20T14:14:00Z","s":"GOES-18 0.5-4.0Å","f":2.01e-7},
      {"t":"2023-06-20T14:15:00Z","s":"GOES-18 0.5-4.0Å","f":1.99e-7},
      {"t":"2023-06-20T14:16:00Z","s":"GOES-18 0.5-4.0Å","f":2.01e-7},
      {"t":"2023-06-20T14:17:00Z","s":"GOES-18 0.5-4.0Å","f":1.95e-7},
      {"t":"2023-06-20T14:18:00Z","s":"GOES-18 0.5-4.0Å","f":1.84e-7},
      {"t":"2023-06-20T14:19:00Z","s":"GOES-18 0.5-4.0Å","f":1.43e-7},
      {"t":"2023-06-20T14:20:00Z","s":"GOES-18 0.5-4.0Å","f":1.10e-7},
      {"t":"2023-06-20T14:21:00Z","s":"GOES-18 0.5-4.0Å","f":9.1e-8},
      {"t":"2023-06-20T14:22:00Z","s":"GOES-18 0.5-4.0Å","f":7.8e-8},
      {"t":"2023-06-20T14:23:00Z","s":"GOES-18 0.5-4.0Å","f":7.1e-8},
      {"t":"2023-06-20T14:24:00Z","s":"GOES-18 0.5-4.0Å","f":6.8e-8},
      {"t":"2023-06-20T14:25:00Z","s":"GOES-18 0.5-4.0Å","f":6.6e-8},
      {"t":"2023-06-20T14:26:00Z","s":"GOES-18 0.5-4.0Å","f":6.2e-8},
      {"t":"2023-06-20T14:27:00Z","s":"GOES-18 0.5-4.0Å","f":6.1e-8},
      {"t":"2023-06-20T14:28:00Z","s":"GOES-18 0.5-4.0Å","f":6.05e-8},
      {"t":"2023-06-20T14:29:00Z","s":"GOES-18 0.5-4.0Å","f":5.3e-8},
      {"t":"2023-06-20T14:30:00Z","s":"GOES-18 0.5-4.0Å","f":3.97e-8},
      {"t":"2023-06-20T14:31:00Z","s":"GOES-18 0.5-4.0Å","f":3.32e-8},
      {"t":"2023-06-20T14:32:00Z","s":"GOES-18 0.5-4.0Å","f":3.19e-8},
      {"t":"2023-06-20T14:33:00Z","s":"GOES-18 0.5-4.0Å","f":2.98e-8},
      {"t":"2023-06-20T14:34:00Z","s":"GOES-18 0.5-4.0Å","f":3.04e-8},
      {"t":"2023-06-20T14:35:00Z","s":"GOES-18 0.5-4.0Å","f":3.23e-8},
      {"t":"2023-06-20T14:36:00Z","s":"GOES-18 0.5-4.0Å","f":2.98e-8},
      {"t":"2023-06-20T14:37:00Z","s":"GOES-18 0.5-4.0Å","f":3.16e-8},
      {"t":"2023-06-20T14:38:00Z","s":"GOES-18 0.5-4.0Å","f":3.81e-8},
      {"t":"2023-06-20T14:39:00Z","s":"GOES-18 0.5-4.0Å","f":2.57e-7},
      {"t":"2023-06-20T14:40:00Z","s":"GOES-18 0.5-4.0Å","f":5.54e-7},
      {"t":"2023-06-20T14:41:00Z","s":"GOES-18 0.5-4.0Å","f":5.43e-7},
      {"t":"2023-06-20T14:42:00Z","s":"GOES-18 0.5-4.0Å","f":4.42e-7},
      {"t":"2023-06-20T14:43:00Z","s":"GOES-18 0.5-4.0Å","f":3.52e-7},
      {"t":"2023-06-20T14:44:00Z","s":"GOES-18 0.5-4.0Å","f":2.84e-7},
      {"t":"2023-06-20T14:45:00Z","s":"GOES-18 0.5-4.0Å","f":2.52e-7},
      {"t":"2023-06-20T14:46:00Z","s":"GOES-18 0.5-4.0Å","f":2.24e-7},
      {"t":"2023-06-20T14:47:00Z","s":"GOES-18 0.5-4.0Å","f":1.97e-7},
      {"t":"2023-06-20T14:48:00Z","s":"GOES-18 0.5-4.0Å","f":1.72e-7},
      {"t":"2023-06-20T14:49:00Z","s":"GOES-18 0.5-4.0Å","f":1.44e-7},
      {"t":"2023-06-20T14:50:00Z","s":"GOES-18 0.5-4.0Å","f":1.14e-7},
      {"t":"2023-06-20T14:51:00Z","s":"GOES-18 0.5-4.0Å","f":9.9e-8},
      {"t":"2023-06-20T14:52:00Z","s":"GOES-18 0.5-4.0Å","f":9.1e-8},
      {"t":"2023-06-20T14:53:00Z","s":"GOES-18 0.5-4.0Å","f":8.5e-8},
      {"t":"2023-06-20T14:54:00Z","s":"GOES-18 0.5-4.0Å","f":7.45e-8},
      {"t":"2023-06-20T14:55:00Z","s":"GOES-18 0.5-4.0Å","f":7.1e-8},
      {"t":"2023-06-20T14:56:00Z","s":"GOES-18 0.5-4.0Å","f":6.75e-8},
      {"t":"2023-06-20T14:57:00Z","s":"GOES-18 0.5-4.0Å","f":6.4e-8},
      {"t":"2023-06-20T14:58:00Z","s":"GOES-18 0.5-4.0Å","f":6.36e-8},
      {"t":"2023-06-20T14:59:00Z","s":"GOES-18 0.5-4.0Å","f":6.3e-8},
      {"t":"2023-06-20T15:00:00Z","s":"GOES-18 0.5-4.0Å","f":6.05e-8},
      {"t":"2023-06-20T15:01:00Z","s":"GOES-18 0.5-4.0Å","f":6.2e-8},
      {"t":"2023-06-20T15:02:00Z","s":"GOES-18 0.5-4.0Å","f":5.76e-8},
      {"t":"2023-06-20T15:03:00Z","s":"GOES-18 0.5-4.0Å","f":5.5e-8},
      {"t":"2023-06-20T15:04:00Z","s":"GOES-18 0.5-4.0Å","f":5.0e-8},
      {"t":"2023-06-20T15:05:00Z","s":"GOES-18 0.5-4.0Å","f":5.2e-8},

      {"t":"2023-06-20T12:42:00Z","s":"GOES-16 0.5-4.0Å","f":1.51e-7},
      {"t":"2023-06-20T12:43:00Z","s":"GOES-16 0.5-4.0Å","f":1.53e-7},
      {"t":"2023-06-20T12:44:00Z","s":"GOES-16 0.5-4.0Å","f":1.54e-7},
      {"t":"2023-06-20T12:45:00Z","s":"GOES-16 0.5-4.0Å","f":1.48e-7},
      {"t":"2023-06-20T12:46:00Z","s":"GOES-16 0.5-4.0Å","f":1.42e-7},
      {"t":"2023-06-20T12:47:00Z","s":"GOES-16 0.5-4.0Å","f":1.35e-7},
      {"t":"2023-06-20T12:48:00Z","s":"GOES-16 0.5-4.0Å","f":1.32e-7},
      {"t":"2023-06-20T12:49:00Z","s":"GOES-16 0.5-4.0Å","f":1.32e-7},
      {"t":"2023-06-20T12:50:00Z","s":"GOES-16 0.5-4.0Å","f":1.33e-7},
      {"t":"2023-06-20T12:51:00Z","s":"GOES-16 0.5-4.0Å","f":1.23e-7},
      {"t":"2023-06-20T12:52:00Z","s":"GOES-16 0.5-4.0Å","f":1.10e-7},
      {"t":"2023-06-20T12:53:00Z","s":"GOES-16 0.5-4.0Å","f":1.00e-7},
      {"t":"2023-06-20T12:54:00Z","s":"GOES-16 0.5-4.0Å","f":8.97e-8},
      {"t":"2023-06-20T12:55:00Z","s":"GOES-16 0.5-4.0Å","f":8.71e-8},
      {"t":"2023-06-20T12:56:00Z","s":"GOES-16 0.5-4.0Å","f":8.89e-8},
      {"t":"2023-06-20T12:57:00Z","s":"GOES-16 0.5-4.0Å","f":9.9e-8},
      {"t":"2023-06-20T12:58:00Z","s":"GOES-16 0.5-4.0Å","f":1.22e-7},
      {"t":"2023-06-20T12:59:00Z","s":"GOES-16 0.5-4.0Å","f":1.32e-7},
      {"t":"2023-06-20T13:00:00Z","s":"GOES-16 0.5-4.0Å","f":1.42e-7},
      {"t":"2023-06-20T13:01:00Z","s":"GOES-16 0.5-4.0Å","f":1.54e-7},
      {"t":"2023-06-20T13:02:00Z","s":"GOES-16 0.5-4.0Å","f":1.59e-7},
      {"t":"2023-06-20T13:03:00Z","s":"GOES-16 0.5-4.0Å","f":1.64e-7},
      {"t":"2023-06-20T13:04:00Z","s":"GOES-16 0.5-4.0Å","f":1.77e-7},
      {"t":"2023-06-20T13:05:00Z","s":"GOES-16 0.5-4.0Å","f":1.90e-7},
      {"t":"2023-06-20T13:06:00Z","s":"GOES-16 0.5-4.0Å","f":6.55e-7},
      {"t":"2023-06-20T13:07:00Z","s":"GOES-16 0.5-4.0Å","f":5.38e-7},
      {"t":"2023-06-20T13:08:00Z","s":"GOES-16 0.5-4.0Å","f":4.97e-7},
      {"t":"2023-06-20T13:09:00Z","s":"GOES-16 0.5-4.0Å","f":4.97e-7},
      {"t":"2023-06-20T13:10:00Z","s":"GOES-16 0.5-4.0Å","f":3.63e-7},
      {"t":"2023-06-20T13:11:00Z","s":"GOES-16 0.5-4.0Å","f":2.75e-7},
      {"t":"2023-06-20T13:12:00Z","s":"GOES-16 0.5-4.0Å","f":2.26e-7},
      {"t":"2023-06-20T13:13:00Z","s":"GOES-16 0.5-4.0Å","f":1.95e-7},
      {"t":"2023-06-20T13:14:00Z","s":"GOES-16 0.5-4.0Å","f":1.79e-7},
      {"t":"2023-06-20T13:15:00Z","s":"GOES-16 0.5-4.0Å","f":1.77e-7},
      {"t":"2023-06-20T13:16:00Z","s":"GOES-16 0.5-4.0Å","f":1.80e-7},
      {"t":"2023-06-20T13:17:00Z","s":"GOES-16 0.5-4.0Å","f":1.73e-7},
      {"t":"2023-06-20T13:18:00Z","s":"GOES-16 0.5-4.0Å","f":1.45e-7},
      {"t":"2023-06-20T13:19:00Z","s":"GOES-16 0.5-4.0Å","f":1.54e-7},
      {"t":"2023-06-20T13:20:00Z","s":"GOES-16 0.5-4.0Å","f":1.60e-7},
      {"t":"2023-06-20T13:21:00Z","s":"GOES-16 0.5-4.0Å","f":1.70e-7},
      {"t":"2023-06-20T13:22:00Z","s":"GOES-16 0.5-4.0Å","f":1.88e-7},
      {"t":"2023-06-20T13:23:00Z","s":"GOES-16 0.5-4.0Å","f":1.72e-7},
      {"t":"2023-06-20T13:24:00Z","s":"GOES-16 0.5-4.0Å","f":1.36e-7},
      {"t":"2023-06-20T13:25:00Z","s":"GOES-16 0.5-4.0Å","f":1.08e-7},
      {"t":"2023-06-20T13:26:00Z","s":"GOES-16 0.5-4.0Å","f":9.6e-8},
      {"t":"2023-06-20T13:27:00Z","s":"GOES-16 0.5-4.0Å","f":8.4e-8},
      {"t":"2023-06-20T13:28:00Z","s":"GOES-16 0.5-4.0Å","f":7.6e-8},
      {"t":"2023-06-20T13:29:00Z","s":"GOES-16 0.5-4.0Å","f":7.2e-8},
      {"t":"2023-06-20T13:30:00Z","s":"GOES-16 0.5-4.0Å","f":6.75e-8},
      {"t":"2023-06-20T13:31:00Z","s":"GOES-16 0.5-4.0Å","f":6.95e-8},
      {"t":"2023-06-20T13:32:00Z","s":"GOES-16 0.5-4.0Å","f":7.3e-8},
      {"t":"2023-06-20T13:33:00Z","s":"GOES-16 0.5-4.0Å","f":7.6e-8},
      {"t":"2023-06-20T13:34:00Z","s":"GOES-16 0.5-4.0Å","f":7.7e-8},
      {"t":"2023-06-20T13:35:00Z","s":"GOES-16 0.5-4.0Å","f":6.7e-8},
      {"t":"2023-06-20T13:36:00Z","s":"GOES-16 0.5-4.0Å","f":6.3e-8},
      {"t":"2023-06-20T13:37:00Z","s":"GOES-16 0.5-4.0Å","f":6.05e-8},
      {"t":"2023-06-20T13:38:00Z","s":"GOES-16 0.5-4.0Å","f":5.8e-8},
      {"t":"2023-06-20T13:39:00Z","s":"GOES-16 0.5-4.0Å","f":5.76e-8},
      {"t":"2023-06-20T13:40:00Z","s":"GOES-16 0.5-4.0Å","f":5.94e-8},
      {"t":"2023-06-20T13:41:00Z","s":"GOES-16 0.5-4.0Å","f":5.82e-8},
      {"t":"2023-06-20T13:42:00Z","s":"GOES-16 0.5-4.0Å","f":5.88e-8},
      {"t":"2023-06-20T13:43:00Z","s":"GOES-16 0.5-4.0Å","f":1.14e-7},
      {"t":"2023-06-20T13:44:00Z","s":"GOES-16 0.5-4.0Å","f":2.22e-7},
      {"t":"2023-06-20T13:45:00Z","s":"GOES-16 0.5-4.0Å","f":2.18e-7},
      {"t":"2023-06-20T13:46:00Z","s":"GOES-16 0.5-4.0Å","f":1.97e-7},
      {"t":"2023-06-20T13:47:00Z","s":"GOES-16 0.5-4.0Å","f":1.70e-7},
      {"t":"2023-06-20T13:48:00Z","s":"GOES-16 0.5-4.0Å","f":1.48e-7},
      {"t":"2023-06-20T13:49:00Z","s":"GOES-16 0.5-4.0Å","f":1.47e-7},
      {"t":"2023-06-20T13:50:00Z","s":"GOES-16 0.5-4.0Å","f":1.64e-7},
      {"t":"2023-06-20T13:51:00Z","s":"GOES-16 0.5-4.0Å","f":1.75e-7},
      {"t":"2023-06-20T13:52:00Z","s":"GOES-16 0.5-4.0Å","f":1.99e-7},
      {"t":"2023-06-20T13:53:00Z","s":"GOES-16 0.5-4.0Å","f":2.18e-7},
      {"t":"2023-06-20T13:54:00Z","s":"GOES-16 0.5-4.0Å","f":2.18e-7},
      {"t":"2023-06-20T13:55:00Z","s":"GOES-16 0.5-4.0Å","f":2.11e-7},
      {"t":"2023-06-20T13:56:00Z","s":"GOES-16 0.5-4.0Å","f":1.97e-7},
      {"t":"2023-06-20T13:57:00Z","s":"GOES-16 0.5-4.0Å","f":1.73e-7},
      {"t":"2023-06-20T13:58:00Z","s":"GOES-16 0.5-4.0Å","f":1.54e-7},
      {"t":"2023-06-20T13:59:00Z","s":"GOES-16 0.5-4.0Å","f":1.43e-7},
      {"t":"2023-06-20T14:00:00Z","s":"GOES-16 0.5-4.0Å","f":1.43e-7},
      {"t":"2023-06-20T14:01:00Z","s":"GOES-16 0.5-4.0Å","f":1.73e-7},
      {"t":"2023-06-20T14:02:00Z","s":"GOES-16 0.5-4.0Å","f":2.43e-7},
      {"t":"2023-06-20T14:03:00Z","s":"GOES-16 0.5-4.0Å","f":2.84e-7},
      {"t":"2023-06-20T14:04:00Z","s":"GOES-16 0.5-4.0Å","f":3.49e-7},
      {"t":"2023-06-20T14:05:00Z","s":"GOES-16 0.5-4.0Å","f":6.88e-7},
      {"t":"2023-06-20T14:06:00Z","s":"GOES-16 0.5-4.0Å","f":1.16e-6},
      {"t":"2023-06-20T14:07:00Z","s":"GOES-16 0.5-4.0Å","f":1.02e-6},
      {"t":"2023-06-20T14:08:00Z","s":"GOES-16 0.5-4.0Å","f":7.59e-7},
      {"t":"2023-06-20T14:09:00Z","s":"GOES-16 0.5-4.0Å","f":5.76e-7},
      {"t":"2023-06-20T14:10:00Z","s":"GOES-16 0.5-4.0Å","f":4.42e-7},
      {"t":"2023-06-20T14:11:00Z","s":"GOES-16 0.5-4.0Å","f":3.35e-7},
      {"t":"2023-06-20T14:12:00Z","s":"GOES-16 0.5-4.0Å","f":2.78e-7},
      {"t":"2023-06-20T14:13:00Z","s":"GOES-16 0.5-4.0Å","f":2.38e-7},
      {"t":"2023-06-20T14:14:00Z","s":"GOES-16 0.5-4.0Å","f":2.22e-7},
      {"t":"2023-06-20T14:15:00Z","s":"GOES-16 0.5-4.0Å","f":2.22e-7},
      {"t":"2023-06-20T14:16:00Z","s":"GOES-16 0.5-4.0Å","f":2.24e-7},
      {"t":"2023-06-20T14:17:00Z","s":"GOES-16 0.5-4.0Å","f":2.20e-7},
      {"t":"2023-06-20T14:18:00Z","s":"GOES-16 0.5-4.0Å","f":2.07e-7},
      {"t":"2023-06-20T14:19:00Z","s":"GOES-16 0.5-4.0Å","f":1.64e-7},
      {"t":"2023-06-20T14:20:00Z","s":"GOES-16 0.5-4.0Å","f":1.32e-7},
      {"t":"2023-06-20T14:21:00Z","s":"GOES-16 0.5-4.0Å","f":1.13e-7},
      {"t":"2023-06-20T14:22:00Z","s":"GOES-16 0.5-4.0Å","f":9.9e-8},
      {"t":"2023-06-20T14:23:00Z","s":"GOES-16 0.5-4.0Å","f":9.2e-8},
      {"t":"2023-06-20T14:24:00Z","s":"GOES-16 0.5-4.0Å","f":8.7e-8},
      {"t":"2023-06-20T14:25:00Z","s":"GOES-16 0.5-4.0Å","f":8.5e-8},
      {"t":"2023-06-20T14:26:00Z","s":"GOES-16 0.5-4.0Å","f":8.05e-8},
      {"t":"2023-06-20T14:27:00Z","s":"GOES-16 0.5-4.0Å","f":7.9e-8},
      {"t":"2023-06-20T14:28:00Z","s":"GOES-16 0.5-4.0Å","f":7.8e-8},
      {"t":"2023-06-20T14:29:00Z","s":"GOES-16 0.5-4.0Å","f":7.2e-8},
      {"t":"2023-06-20T14:30:00Z","s":"GOES-16 0.5-4.0Å","f":6.0e-8},
      {"t":"2023-06-20T14:31:00Z","s":"GOES-16 0.5-4.0Å","f":5.4e-8},
      {"t":"2023-06-20T14:32:00Z","s":"GOES-16 0.5-4.0Å","f":5.1e-8},
      {"t":"2023-06-20T14:33:00Z","s":"GOES-16 0.5-4.0Å","f":4.7e-8},
      {"t":"2023-06-20T14:34:00Z","s":"GOES-16 0.5-4.0Å","f":5.0e-8},
      {"t":"2023-06-20T14:35:00Z","s":"GOES-16 0.5-4.0Å","f":4.8e-8},
      {"t":"2023-06-20T14:36:00Z","s":"GOES-16 0.5-4.0Å","f":4.7e-8},
      {"t":"2023-06-20T14:37:00Z","s":"GOES-16 0.5-4.0Å","f":5.1e-8},
      {"t":"2023-06-20T14:38:00Z","s":"GOES-16 0.5-4.0Å","f":5.8e-8},
      {"t":"2023-06-20T14:39:00Z","s":"GOES-16 0.5-4.0Å","f":2.62e-7},
      {"t":"2023-06-20T14:40:00Z","s":"GOES-16 0.5-4.0Å","f":5.76e-7},
      {"t":"2023-06-20T14:41:00Z","s":"GOES-16 0.5-4.0Å","f":5.65e-7},
      {"t":"2023-06-20T14:42:00Z","s":"GOES-16 0.5-4.0Å","f":4.64e-7},
      {"t":"2023-06-20T14:43:00Z","s":"GOES-16 0.5-4.0Å","f":3.74e-7},
      {"t":"2023-06-20T14:44:00Z","s":"GOES-16 0.5-4.0Å","f":3.04e-7},
      {"t":"2023-06-20T14:45:00Z","s":"GOES-16 0.5-4.0Å","f":2.70e-7},
      {"t":"2023-06-20T14:46:00Z","s":"GOES-16 0.5-4.0Å","f":2.43e-7},
      {"t":"2023-06-20T14:47:00Z","s":"GOES-16 0.5-4.0Å","f":2.16e-7},
      {"t":"2023-06-20T14:48:00Z","s":"GOES-16 0.5-4.0Å","f":1.84e-7},
      {"t":"2023-06-20T14:49:00Z","s":"GOES-16 0.5-4.0Å","f":1.54e-7},
      {"t":"2023-06-20T14:50:00Z","s":"GOES-16 0.5-4.0Å","f":1.29e-7},
      {"t":"2023-06-20T14:51:00Z","s":"GOES-16 0.5-4.0Å","f":1.15e-7},
      {"t":"2023-06-20T14:52:00Z","s":"GOES-16 0.5-4.0Å","f":1.07e-7},
      {"t":"2023-06-20T14:53:00Z","s":"GOES-16 0.5-4.0Å","f":1.00e-7},
      {"t":"2023-06-20T14:54:00Z","s":"GOES-16 0.5-4.0Å","f":9.2e-8},
      {"t":"2023-06-20T14:55:00Z","s":"GOES-16 0.5-4.0Å","f":8.6e-8},
      {"t":"2023-06-20T14:56:00Z","s":"GOES-16 0.5-4.0Å","f":8.4e-8},
      {"t":"2023-06-20T14:57:00Z","s":"GOES-16 0.5-4.0Å","f":8.05e-8},
      {"t":"2023-06-20T14:58:00Z","s":"GOES-16 0.5-4.0Å","f":8.05e-8},
      {"t":"2023-06-20T14:59:00Z","s":"GOES-16 0.5-4.0Å","f":7.8e-8},
      {"t":"2023-06-20T15:00:00Z","s":"GOES-16 0.5-4.0Å","f":7.9e-8},
      {"t":"2023-06-20T15:01:00Z","s":"GOES-16 0.5-4.0Å","f":8.0e-8},
      {"t":"2023-06-20T15:02:00Z","s":"GOES-16 0.5-4.0Å","f":7.4e-8},
      {"t":"2023-06-20T15:03:00Z","s":"GOES-16 0.5-4.0Å","f":6.95e-8},
      {"t":"2023-06-20T15:04:00Z","s":"GOES-16 0.5-4.0Å","f":6.75e-8},
      {"t":"2023-06-20T15:05:00Z","s":"GOES-16 0.5-4.0Å","f":6.9e-8}
    ]
  },
  "layer": [
    {
      "mark": {"type": "line", "strokeWidth": 1.6, "clip": true},
      "encoding": {
        "x": {
          "field": "t",
          "type": "temporal",
          "scale": {
            "type": "utc",
            "domain": [
              {"year": 2023, "month": 6, "date": 20, "hours": 12, "minutes": 42, "utc": true},
              {"year": 2023, "month": 6, "date": 20, "hours": 15, "minutes": 5, "utc": true}
            ]
          },
          "axis": {
            "title": "Time (UTC)",
            "values": [
              {"year": 2023, "month": 6, "date": 20, "hours": 12, "minutes": 45, "utc": true},
              {"year": 2023, "month": 6, "date": 20, "hours": 13, "minutes": 0, "utc": true},
              {"year": 2023, "month": 6, "date": 20, "hours": 13, "minutes": 15, "utc": true},
              {"year": 2023, "month": 6, "date": 20, "hours": 13, "minutes": 30, "utc": true},
              {"year": 2023, "month": 6, "date": 20, "hours": 13, "minutes": 45, "utc": true},
              {"year": 2023, "month": 6, "date": 20, "hours": 14, "minutes": 0, "utc": true},
              {"year": 2023, "month": 6, "date": 20, "hours": 14, "minutes": 15, "utc": true},
              {"year": 2023, "month": 6, "date": 20, "hours": 14, "minutes": 30, "utc": true},
              {"year": 2023, "month": 6, "date": 20, "hours": 14, "minutes": 45, "utc": true},
              {"year": 2023, "month": 6, "date": 20, "hours": 15, "minutes": 0, "utc": true}
            ],
            "labelExpr": "utcminutes(datum.value) % 30 == 0 ? [utcFormat(datum.value, '%H:%M'), utcFormat(datum.value, '%b %d')] : utcFormat(datum.value, '%H:%M')",
            "labelLineHeight": 23,
            "labelPadding": 13,
            "tickSize": -8,
            "grid": true,
            "gridColor": "#000000",
            "gridWidth": 1.2,
            "gridOpacity": {"condition": {"test": "utcminutes(datum.value) % 30 == 0", "value": 1}, "value": 0},
            "titleY": 64,
            "titleBaseline": "middle"
          }
        },
        "y": {
          "field": "f",
          "type": "quantitative",
          "scale": {"type": "log", "domain": [1e-9, 1e-2]},
          "axis": {
            "title": "Flux (Watts · m⁻²)",
            "values": [1e-9,2e-9,3e-9,4e-9,5e-9,6e-9,7e-9,8e-9,9e-9,1e-8,2e-8,3e-8,4e-8,5e-8,6e-8,7e-8,8e-8,9e-8,1e-7,2e-7,3e-7,4e-7,5e-7,6e-7,7e-7,8e-7,9e-7,1e-6,2e-6,3e-6,4e-6,5e-6,6e-6,7e-6,8e-6,9e-6,1e-5,2e-5,3e-5,4e-5,5e-5,6e-5,7e-5,8e-5,9e-5,1e-4,2e-4,3e-4,4e-4,5e-4,6e-4,7e-4,8e-4,9e-4,1e-3,2e-3,3e-3,4e-3,5e-3,6e-3,7e-3,8e-3,9e-3,1e-2],
            "labelExpr": "datum.value == 1e-8 ? '10⁻⁸' : datum.value == 1e-7 ? '10⁻⁷' : datum.value == 1e-6 ? '10⁻⁶' : datum.value == 1e-5 ? '10⁻⁵' : datum.value == 1e-4 ? '10⁻⁴' : datum.value == 1e-3 ? '10⁻³' : ''",
            "grid": true,
            "gridColor": "#b0b0b0",
            "gridWidth": 1,
            "gridOpacity": {"condition": {"test": "indexof([1e-8, 1e-7, 1e-6, 1e-5, 1e-4, 1e-3], datum.value) >= 0", "value": 1}, "value": 0},
            "tickSize": -8,
            "labelPadding": 14,
            "titleX": -76,
            "titleBaseline": "middle"
          }
        },
        "color": {
          "field": "s",
          "type": "nominal",
          "scale": {
            "domain": ["GOES-18 1.0-8.0Å", "GOES-16 1.0-8.0Å", "GOES-18 0.5-4.0Å", "GOES-16 0.5-4.0Å"],
            "range": ["#ffd700", "#ff0000", "#00ffff", "#0000ff"]
          },
          "legend": {
            "title": null,
            "orient": "none",
            "legendX": 736,
            "legendY": 5,
            "columns": 2,
            "symbolType": "stroke",
            "symbolSize": 500,
            "symbolStrokeWidth": 1.5,
            "labelFontSize": 14,
            "labelOffset": 17,
            "columnPadding": 29,
            "rowPadding": 3,
            "padding": 5,
            "fillColor": "rgba(255,255,255,0.8)",
            "strokeColor": "#cccccc",
            "cornerRadius": 4,
            "labelLimit": 300
          }
        }
      }
    },
    {
      "data": {"values": [{}]},
      "mark": {"type": "text", "align": "right", "baseline": "alphabetic", "fontSize": 16, "color": "#000000"},
      "encoding": {
        "x": {
          "datum": {"year": 2023, "month": 6, "date": 20, "hours": 15, "minutes": 3, "seconds": 6, "utc": true},
          "type": "temporal"
        },
        "y": {
          "datum": 1.47e-9,
          "type": "quantitative",
          "axis": {
            "orient": "right",
            "title": "GOES Class",
            "values": [1e-9,2e-9,3e-9,4e-9,5e-9,6e-9,7e-9,8e-9,9e-9,1e-8,2e-8,3e-8,4e-8,5e-8,6e-8,7e-8,8e-8,9e-8,1e-7,2e-7,3e-7,4e-7,5e-7,6e-7,7e-7,8e-7,9e-7,1e-6,2e-6,3e-6,4e-6,5e-6,6e-6,7e-6,8e-6,9e-6,1e-5,2e-5,3e-5,4e-5,5e-5,6e-5,7e-5,8e-5,9e-5,1e-4,2e-4,3e-4,4e-4,5e-4,6e-4,7e-4,8e-4,9e-4,1e-3,2e-3,3e-3,4e-3,5e-3,6e-3,7e-3,8e-3,9e-3,1e-2,3.1623e-8,3.1623e-7,3.1623e-6,3.1623e-5,3.1623e-4],
            "labelExpr": "datum.value == 3.1623e-8 ? 'A' : datum.value == 3.1623e-7 ? 'B' : datum.value == 3.1623e-6 ? 'C' : datum.value == 3.1623e-5 ? 'M' : datum.value == 3.1623e-4 ? 'X' : ''",
            "grid": false,
            "tickSize": -8,
            "tickOpacity": {"condition": {"test": "indexof([3.1623e-8, 3.1623e-7, 3.1623e-6, 3.1623e-5, 3.1623e-4], datum.value) >= 0", "value": 0}, "value": 1},
            "labelPadding": 14,
            "titleAngle": 270,
            "titleX": 36,
            "titleBaseline": "middle"
          }
        },
        "text": {"value": "SolarMonitor.org : 23-Jun-2023 14:30 UTC"}
      }
    }
  ],
  "resolve": {"axis": {"y": "independent"}}
}
